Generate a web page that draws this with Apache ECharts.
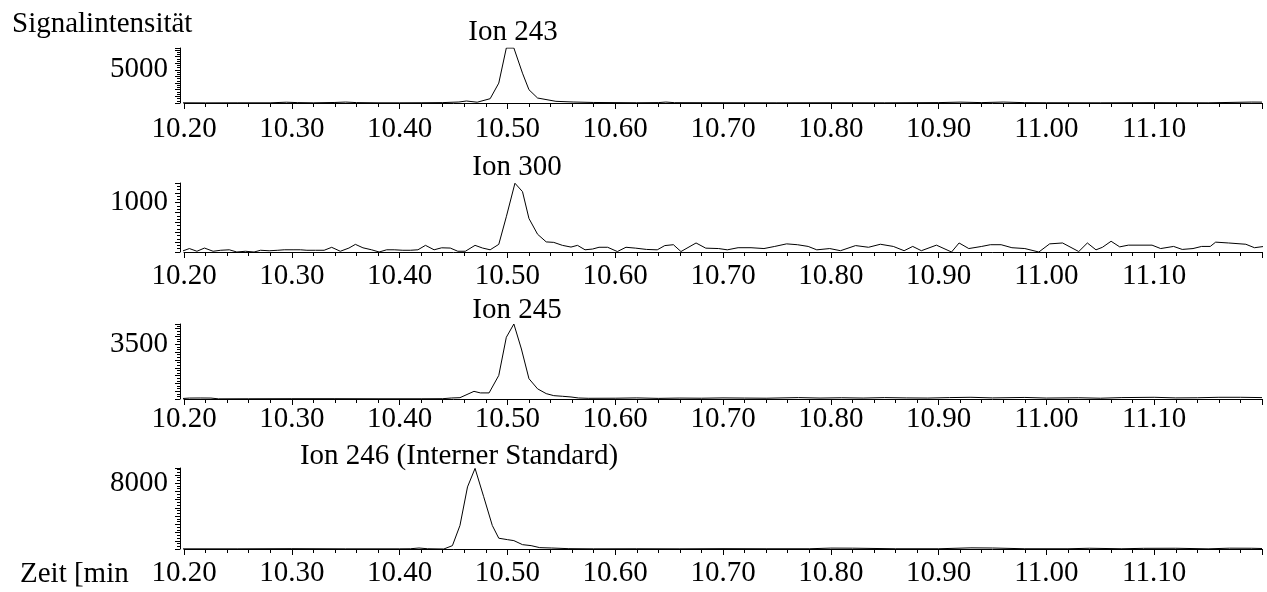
<!DOCTYPE html>
<html>
<head>
<meta charset="utf-8">
<script src="https://cdn.jsdelivr.net/npm/echarts@6/dist/echarts.min.js"></script>
<style>
html,body{margin:0;padding:0;background:#fff;}
#chart{width:1267px;height:592px;}
</style>
</head>
<body>
<div id="chart"></div>
<script>
// ---- data (time in min, signal intensity) ----
const ionTitles = ['Ion 243', 'Ion 300', 'Ion 245', 'Ion 246 (Interner Standard)'];
const yLabelValues = [5000, 1000, 3500, 8000];
const yMaxValues = [8300, 1400, 4800, 9850];
const yTickIntervals = [1000, 200, 500, 1000];
const xAxisTitle = 'Zeit [min';
const yAxisTitle = 'Signalintensität';

const t243 = [10.196, 10.22, 10.25, 10.28, 10.295, 10.305, 10.32, 10.34, 10.35, 10.36, 10.38, 10.40, 10.42, 10.44, 10.455, 10.462, 10.472, 10.484, 10.492, 10.499, 10.506, 10.514, 10.520, 10.528, 10.545, 10.561, 10.58, 10.62, 10.64, 10.647, 10.655, 10.70, 10.75, 10.80, 10.85, 10.90, 10.92, 10.94, 10.96, 10.98, 11.00, 11.05, 11.10, 11.15, 11.19, 11.20];
const v243 = [30, 20, 30, 30, 120, 60, 30, 80, 140, 60, 30, 30, 40, 60, 150, 300, 120, 650, 3000, 8300, 8300, 4500, 2000, 750, 250, 150, 80, 40, 60, 140, 50, 40, 30, 40, 30, 60, 130, 60, 140, 50, 40, 30, 50, 30, 140, 130];

const t300 = [10.198, 10.205, 10.212, 10.219, 10.227, 10.234, 10.242, 10.249, 10.257, 10.265, 10.271, 10.279, 10.287, 10.293, 10.302, 10.308, 10.314, 10.322, 10.330, 10.337, 10.345, 10.353, 10.359, 10.366, 10.374, 10.381, 10.388, 10.395, 10.403, 10.410, 10.417, 10.424, 10.432, 10.439, 10.447, 10.454, 10.461, 10.470, 10.477, 10.484, 10.492, 10.499, 10.507, 10.514, 10.520, 10.528, 10.536, 10.543, 10.551, 10.559, 10.565, 10.572, 10.579, 10.585, 10.593, 10.602, 10.610, 10.619, 10.629, 10.639, 10.646, 10.654, 10.661, 10.675, 10.684, 10.696, 10.704, 10.714, 10.726, 10.738, 10.748, 10.759, 10.769, 10.779, 10.787, 10.799, 10.809, 10.823, 10.835, 10.846, 10.858, 10.868, 10.876, 10.884, 10.898, 10.912, 10.919, 10.928, 10.940, 10.948, 10.958, 10.968, 10.980, 10.993, 11.003, 11.015, 11.030, 11.038, 11.046, 11.052, 11.060, 11.068, 11.076, 11.098, 11.106, 11.118, 11.126, 11.136, 11.144, 11.152, 11.157, 11.169, 11.185, 11.193, 11.202];
const v300 = [15, 70, 15, 80, 15, 35, 45, 0, 15, 0, 35, 25, 35, 45, 45, 45, 35, 35, 35, 95, 15, 80, 155, 85, 45, 0, 45, 45, 35, 35, 45, 135, 45, 85, 80, 15, 15, 135, 80, 45, 155, 715, 1395, 1225, 680, 360, 205, 195, 135, 100, 135, 45, 60, 96, 96, 9, 96, 78, 52, 44, 130, 148, 9, 183, 78, 70, 44, 87, 87, 70, 113, 165, 148, 113, 44, 70, 26, 130, 96, 157, 113, 26, 113, 26, 139, 0, 183, 70, 113, 148, 148, 87, 70, 0, 165, 183, 9, 183, 44, 96, 218, 104, 139, 139, 70, 113, 52, 70, 113, 113, 200, 183, 157, 87, 113];

const t245 = [10.196, 10.205, 10.215, 10.225, 10.232, 10.26, 10.30, 10.34, 10.38, 10.42, 10.44, 10.448, 10.456, 10.469, 10.475, 10.483, 10.492, 10.499, 10.506, 10.513, 10.520, 10.528, 10.536, 10.543, 10.551, 10.559, 10.566, 10.575, 10.60, 10.62, 10.64, 10.66, 10.68, 10.70, 10.72, 10.74, 10.77, 10.79, 10.81, 10.83, 10.85, 10.87, 10.89, 10.91, 10.93, 10.95, 10.98, 11.00, 11.03, 11.05, 11.07, 11.10, 11.12, 11.14, 11.16, 11.18, 11.20];
const v245 = [20, 60, 65, 60, 10, 15, 20, 20, 15, 15, 20, 65, 85, 490, 390, 390, 1510, 3950, 4800, 3200, 1300, 650, 345, 215, 175, 130, 65, 45, 50, 70, 40, 60, 50, 70, 60, 50, 90, 60, 80, 60, 90, 70, 60, 90, 110, 70, 100, 60, 80, 50, 90, 110, 70, 80, 110, 110, 90];

const t246 = [10.196, 10.25, 10.30, 10.35, 10.40, 10.41, 10.418, 10.426, 10.441, 10.449, 10.456, 10.463, 10.470, 10.478, 10.486, 10.492, 10.500, 10.506, 10.514, 10.522, 10.530, 10.541, 10.557, 10.58, 10.62, 10.66, 10.70, 10.74, 10.78, 10.80, 10.82, 10.86, 10.90, 10.93, 10.95, 10.98, 11.02, 11.04, 11.07, 11.09, 11.12, 11.15, 11.17, 11.19, 11.20];
const v246 = [20, 20, 40, 20, 20, 30, 120, 30, 0, 410, 2860, 7550, 9800, 6360, 2860, 1310, 1140, 1020, 530, 410, 165, 120, 40, 20, 30, 20, 40, 30, 30, 110, 100, 30, 30, 140, 120, 30, 30, 90, 30, 80, 90, 20, 100, 90, 60];

const seriesTimes = [t243, t300, t245, t246];
const seriesValues = [v243, v300, v245, v246];

// ---- layout (px) ----
const panelTops = [48, 183, 324, 468];
const panelHeights = [55, 69, 75, 81];
const xLabelMargins = [12, 10, 6, 10];
const titleCenters = [[513, 32], [517, 167], [517, 310], [459, 456]];

const FONT = '"Liberation Serif", "Times New Roman", Times, serif';
const FS = 29;

const chart = echarts.init(document.getElementById('chart'));

const grids = [], xAxes = [], yAxes = [], series = [], graphics = [];
for (let i = 0; i < 4; i++) {
  grids.push({ left: 184, right: 5, top: panelTops[i], height: panelHeights[i] });
  xAxes.push({
    type: 'value', gridIndex: i, min: 10.2, max: 11.2, interval: 0.1,
    axisLine: { show: true, lineStyle: { color: '#000', width: 1 } },
    axisTick: { show: true, length: 6, lineStyle: { color: '#000', width: 1 } },
    minorTick: { show: true, splitNumber: 5, length: 4, lineStyle: { color: '#000', width: 1 } },
    splitLine: { show: false },
    axisLabel: {
      show: true, margin: xLabelMargins[i], color: '#000', fontFamily: FONT, fontSize: FS,
      showMaxLabel: false, showMinLabel: true,
      formatter: v => v.toFixed(2)
    }
  });
  const lab = yLabelValues[i];
  yAxes.push({
    type: 'value', gridIndex: i, min: 0, max: yMaxValues[i], interval: yTickIntervals[i],
    offset: 4,
    axisLine: { show: true, lineStyle: { color: '#000', width: 1 } },
    axisTick: { show: true, length: 5, lineStyle: { color: '#000', width: 1 } },
    minorTick: { show: true, splitNumber: 3, length: 3, lineStyle: { color: '#000', width: 1 } },
    splitLine: { show: false },
    axisLabel: {
      show: true, margin: 12, color: '#000', fontFamily: FONT, fontSize: FS,
      showMaxLabel: true, showMinLabel: true,
      formatter: v => (Math.abs(v - lab) < 1e-6 ? String(lab) : '')
    }
  });
  const data = seriesTimes[i].map((t, k) => [t, seriesValues[i][k]]);
  series.push({
    type: 'line', xAxisIndex: i, yAxisIndex: i, data: data,
    showSymbol: false, symbol: 'none', smooth: false,
    lineStyle: { color: '#000', width: 1 }, animation: false
  });
  graphics.push({
    type: 'text', x: titleCenters[i][0], y: titleCenters[i][1],
    style: { text: ionTitles[i], fill: '#000', font: FS + 'px ' + FONT, textAlign: 'center', textVerticalAlign: 'middle' }
  });
}
graphics.push({
  type: 'text', x: 12, y: 24,
  style: { text: yAxisTitle, fill: '#000', font: FS + 'px ' + FONT, textAlign: 'left', textVerticalAlign: 'middle' }
});
graphics.push({
  type: 'text', x: 20, y: 574,
  style: { text: xAxisTitle, fill: '#000', font: FS + 'px ' + FONT, textAlign: 'left', textVerticalAlign: 'middle' }
});

chart.setOption({
  backgroundColor: '#fff',
  animation: false,
  grid: grids,
  xAxis: xAxes,
  yAxis: yAxes,
  series: series,
  graphic: graphics
});
</script>
</body>
</html>
